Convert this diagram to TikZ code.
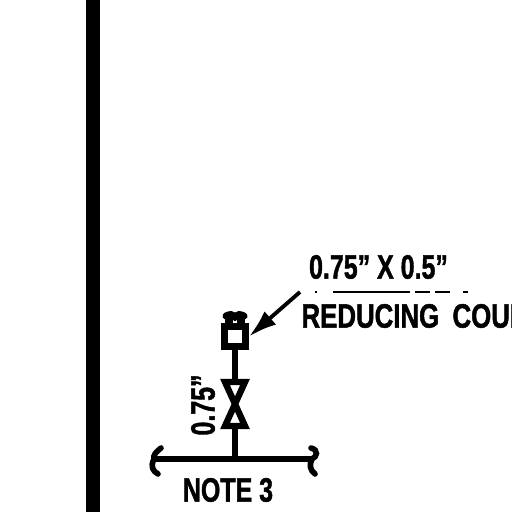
\documentclass[tikz,border=0pt]{standalone}
\usepackage{fontspec}
\setmainfont{Liberation Sans}[BoldFeatures={FakeBold=1.6}]
\usetikzlibrary{arrows.meta}
\tikzset{
	pipe/.style={line width=1.8pt},
	pipebreak/.style={line width=1.6pt,line cap=round},
	lbl/.style={font=\bfseries\fontsize{9.6}{10}\selectfont,inner sep=0pt,text=black},
	couplingbox/.style={draw,line width=2pt,minimum width=.21cm,minimum height=.2cm,inner sep=0pt},
}
\begin{document}
\begin{tikzpicture}
		\useasboundingbox (0,0) rectangle (5.12,5.12);
		\clip (0,0) rectangle (5.12,5.12);
		\fill (.86,0) rectangle (1,5.12);
		
		% header line
		\coordinate (hl) at (1.54,.53);
		\coordinate (hr) at (3.12,.53);
		\coordinate (tee) at (2.35,.53);
		\draw[pipe] (hl) -- (hr);
		\draw[pipebreak] (1.61,.64) .. controls (1.56,.6) and (1.53,.57) .. (hl) .. controls (1.5,.45) and (1.53,.41) .. (1.58,.38);
		\draw[pipebreak] (3.11,.64) .. controls (3.19,.62) and (3.17,.55) .. (hr) .. controls (3.09,.47) and (3.1,.42) .. (3.15,.38);
		
		% valve
		\coordinate (vt) at (2.35,1.29);
		\coordinate (vb) at (2.35,.85);
		\draw[line width=1.8pt,miter limit=3] (2.25,1.3) -- (2.45,1.3) -- (2.25,.86) -- (2.45,.86) -- cycle;
		
		% coupling
		\node[couplingbox] (coupling) at (2.35,1.755) {};
		\draw[pipe] (coupling.south) -- (vt);
		\draw[pipe] (vb) -- (tee);
		\draw[line width=2pt,line cap=round] (2.26,1.96) .. controls (2.31,1.98) .. (2.35,1.95) .. controls (2.39,1.98) .. (2.44,1.96);
		\draw[line width=2pt] (2.29,1.96) -- (2.29,1.86);
		\draw[line width=2pt] (2.41,1.96) -- (2.41,1.86);
		
		% labels
		\node[lbl,xscale=.74] (size) at (3.785,2.45) {0.75" X 0.5"};
		\node[lbl,xscale=.765,anchor=west] (name) at (3.01,1.96) {REDUCING\hspace{2.3pt} COUPLING};
		\node[lbl,rotate=90,xscale=.74] (vsize) at (2.03,1.07) {0.75"};
		\node[lbl,xscale=.74] (note) at (2.28,.22) {NOTE 3};
		
		% arrow to coupling
		\coordinate (lead) at (3,2.2);
		\draw[-{Latex[length=8pt,width=5pt]},line width=1.1pt] (lead) -- (coupling.east);
		\draw[line width=.5pt,dash pattern=on .6pt off 4.5pt on 22pt off 1.4pt on 4.3pt off 1.4pt on 4.3pt off 3.7pt on 1.4pt off 20pt] (3.15,2.2) -- (4.68,2.2);
		\end{tikzpicture}
\end{document}
